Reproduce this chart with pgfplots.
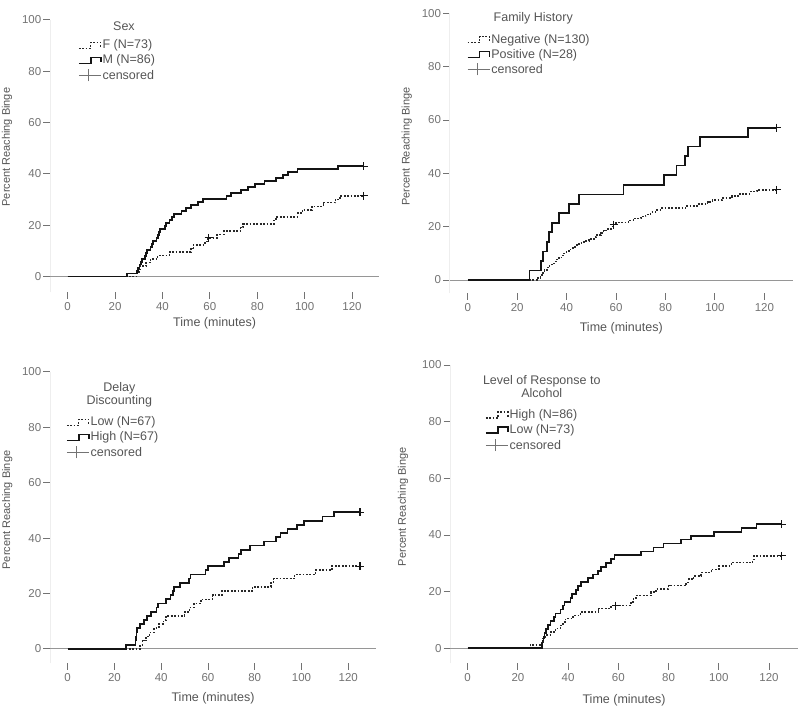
\documentclass[border=0pt]{standalone}
\usepackage{pgfplots}
\pgfplotsset{compat=1.18}
\usepackage{fontspec}
\setmainfont{Liberation Sans}
\definecolor{txt}{RGB}{85,85,85}
\definecolor{tk}{RGB}{115,115,115}
\definecolor{zl}{RGB}{150,150,150}
\definecolor{axc}{RGB}{238,238,238}
\definecolor{sol}{RGB}{20,20,20}
\definecolor{dot}{RGB}{40,40,40}
\pgfplotsset{
  km/.style={
    scale only axis, clip=false,
    /pgf/number format/assume math mode=true,
    axis x line*=bottom, axis y line*=left,
    x axis line style={draw=none},
    y axis line style={draw=axc, line width=0.8pt, -},
    xtick={0,20,...,120}, ytick={0,20,...,100},
    tick align=outside,
    major tick length=6.5pt,
    tick style={draw=tk, line width=0.9pt},
    ticklabel style={font=\fontsize{11.5}{13}\selectfont, text=tk},
    y tick label style={inner sep=2pt},
    xlabel={Time (minutes)},
    ylabel={Percent Reaching Binge},
    every axis x label/.style={font=\fontsize{12.5}{14}\selectfont, text=txt, anchor=center},
    every axis y label/.style={font=\fontsize{11}{13}\selectfont, text=txt, rotate=90, anchor=center},
    legend cell align=left,
    legend style={draw=none, fill=none, inner sep=0pt, outer sep=0pt, row sep=1pt,
       nodes={inner sep=1pt, text height=9pt, text depth=3pt, font=\fontsize{12.5}{14}\selectfont, text=txt},
       anchor=north west},
  },
  stepdot/.style={const plot, dot, line width=1.5pt, dash pattern=on 1.8pt off 1.6pt},
  stepsol/.style={const plot, sol, line width=1.7pt},
  cens/.style={only marks, mark=+, mark size=4pt, sol, line width=1.1pt, forget plot},
  zero/.style={zl, line width=0.9pt, forget plot},
  dotleg/.style={legend image code/.code={\draw[dot, line width=1.4pt, dash pattern=on 1.8pt off 1.6pt] (0pt,-2.5pt) -- (12pt,-2.5pt) -- (12pt,3.5pt) -- (22pt,3.5pt) -- (22pt,-1.5pt);}},
  solleg/.style={legend image code/.code={\draw[sol, line width=1.6pt] (0pt,-2.5pt) -- (12pt,-2.5pt) -- (12pt,3.5pt) -- (22pt,3.5pt) -- (22pt,-1.5pt);}},
  cenleg/.style={legend image code/.code={\draw[tk, line width=0.9pt] (0pt,1.5pt) -- (22pt,1.5pt); \draw[tk, line width=0.9pt] (10pt,-4.5pt) -- (10pt,7.5pt);}},
}
\newcommand{\ttl}{\fontsize{12.5}{12.7}\selectfont\color{txt}}
\begin{document}
\begin{tikzpicture}
\useasboundingbox (0,0) rectangle (800pt,-707pt);

% ---------------- Panel 1: Sex
\begin{axis}[km, at={(49.9pt,-292.3pt)}, anchor=south west,
  width=329.4pt, height=272.4pt, xmin=-7.5, xmax=131.5, ymin=-6.1, ymax=100,
  xlabel style={at={(axis description cs:0.5,0)}, yshift=-31pt},
  ylabel style={at={(axis description cs:-0.1305,0.533)}},
  legend style={at={(axis cs:4.35,92.6)}}]
\addplot[zero] coordinates {(-7.5,0) (131.5,0)};
\addplot[stepdot, dotleg] coordinates {(0,0)(29,1.4)(30,2.7)(30.5,4.1)(33,5.5)(35,6.8)(38,8.2)(43,9.6)(52,11)(53,12.3)(58,13.7)(59,15.1)(63,16.4)(66,17.8)(73,19.2)(74,20.5)(87,21.9)(88,23.3)(97,24.7)(99,26)(103,27.4)(108,28.8)(113,30.1)(115,31.5)(125,31.5)};
\addlegendentry{F (N=73)}
\addplot[stepsol, solleg] coordinates {(0,0)(25,1.2)(29.3,2.3)(29.8,3.5)(30.3,4.7)(30.8,5.8)(31.5,7)(32.5,8.1)(33,9.3)(33.5,10.5)(35,11.6)(35.5,12.8)(36,14)(37.5,15.1)(38,16.3)(38.5,17.4)(39,18.6)(41,19.8)(41.5,20.9)(43,22.1)(44,23.3)(45,24.4)(48,25.6)(50,26.7)(52,27.9)(55,29.1)(57,30.2)(67,31.4)(69,32.6)(73,33.7)(76,34.9)(79,36)(83,37.2)(88,38.4)(91,39.5)(93,40.7)(97,41.9)(114,43.0)(125,43.0)};
\addlegendentry{M (N=86)}
\addplot[cens] coordinates {(125,31.5)(125,43.0)(59.5,15.1)};
\addlegendimage{cenleg}
\addlegendentry{censored}
\node[font=\ttl] at (axis cs:23.75,97.7) {Sex};
\end{axis}

% ---------------- Panel 2: Family History
\begin{axis}[km, at={(449.7pt,-293.3pt)}, anchor=south west,
  width=343.1pt, height=280.0pt, xmin=-7.3, xmax=131.5, ymin=-5.0, ymax=100,
  xlabel style={at={(axis description cs:0.5,0)}, yshift=-35pt},
  ylabel style={at={(axis description cs:-0.1253,0.524)}},
  legend style={at={(axis cs:-0.4,92.6)}}]
\addplot[zero] coordinates {(-7.3,0) (131.5,0)};
\addplot[stepdot, dotleg] coordinates {(0,0)(28.5,0.8)(29.5,1.5)(30,2.3)(30.5,3.1)(31,3.8)(32,4.6)(33,5.4)(34,6.2)(35,6.9)(36,7.7)(37,8.5)(38,9.2)(39,10)(40,10.8)(41.5,11.5)(42.5,12.3)(44,13.1)(45,13.8)(47,14.6)(49,15.4)(51,16.2)(52,16.9)(54,17.7)(55,18.5)(56.5,19.2)(58,20)(59,20.8)(60,21.5)(65,22.3)(67,23.1)(70,23.8)(72,24.6)(74,25.4)(76,26.2)(78,26.9)(88,27.7)(93,28.5)(97,29.2)(99,30)(103,30.8)(107,31.5)(110,32.3)(114,33.1)(117,33.8)(125,33.8)};
\addlegendentry{Negative (N=130)}
\addplot[stepsol, solleg] coordinates {(0,0)(25,3.6)(29.5,7.1)(30.5,10.7)(32,14.3)(33,17.9)(34,21.4)(37,25)(41,28.6)(45,32.1)(63,35.7)(79.5,39.3)(84.5,42.9)(88,46.4)(89,50)(94,53.6)(113.5,57.1)(125,57.1)};
\addlegendentry{Positive (N=28)}
\addplot[cens] coordinates {(125,33.8)(125,57.1)(59,20.8)};
\addlegendimage{cenleg}
\addlegendentry{censored}
\node[font=\ttl] at (axis cs:26.5,98.1) {Family History};
\end{axis}

% ---------------- Panel 3: Delay Discounting
\begin{axis}[km, at={(49.9pt,-663.3pt)}, anchor=south west,
  width=326.2pt, height=291.4pt, xmin=-7.6, xmax=131.9, ymin=-5.2, ymax=100,
  xlabel style={at={(axis description cs:0.5,0)}, yshift=-35pt},
  ylabel style={at={(axis description cs:-0.1306,0.526)}},
  legend style={at={(axis cs:-0.73,84.1)}}]
\addplot[zero] coordinates {(-7.6,0) (131.9,0)};
\addplot[stepdot, dotleg] coordinates {(0,0)(31,1.5)(32,3)(33.5,4.5)(35,6)(37,7.5)(39,9)(41,10.4)(42,11.9)(50,13.4)(52,14.9)(54,16.4)(57,17.9)(62,19.4)(66,20.9)(79,22.4)(87,23.9)(88,25.4)(97,26.9)(106,28.4)(113,29.9)(125,29.9)};
\addlegendentry{Low (N=67)}
\addplot[stepsol, solleg] coordinates {(0,0)(25,1.5)(29,3)(29.2,4.5)(29.4,6)(29.6,7.5)(31,9)(32.5,10.4)(34,11.9)(35.5,13.4)(38,14.9)(38.5,16.4)(42,17.9)(44,19.4)(45,20.9)(45.5,22.4)(48,23.9)(52,25.4)(52.5,26.9)(59,28.4)(60,29.9)(67,31.3)(69,32.8)(73,34.3)(74,35.8)(78,37.3)(84,38.8)(89,40.3)(91,41.8)(94,43.3)(98,44.8)(101,46.3)(109,47.8)(114,49.3)(125,49.3)};
\addlegendentry{High (N=67)}
\addplot[cens] coordinates {(125,29.9)(125,49.3)};
\addlegendimage{cenleg}
\addlegendentry{censored}
\node[font=\ttl, align=center] at (axis cs:22.1,91.8) {Delay\\Discounting};
\end{axis}

% ---------------- Panel 4: Level of Response to Alcohol
\begin{axis}[km, at={(450.1pt,-663.3pt)}, anchor=south west,
  width=347.8pt, height=298.3pt, xmin=-7, xmax=131.5, ymin=-5.3, ymax=100,
  xlabel style={at={(axis description cs:0.5,0)}, yshift=-36.7pt},
  ylabel style={at={(axis description cs:-0.135,0.525)}},
  legend style={at={(axis cs:6.9,84.6)}}]
\addplot[zero] coordinates {(-7,0) (131.5,0)};
\addplot[stepdot, dotleg] coordinates {(0,0)(25,1.2)(29.5,2.3)(30,3.5)(31,4.7)(33,5.8)(35,7)(37,8.1)(38,9.3)(39,10.5)(42,11.6)(45,12.8)(52,14)(57,15.1)(65,16.3)(66,17.4)(67,18.6)(73,19.8)(75,20.9)(80,22.1)(87,23.3)(88,24.4)(90,25.6)(93,26.7)(97,27.9)(100,29.1)(105,30.2)(113.5,31.4)(114,32.6)(125,32.6)};
\addlegendentry{High (N=86)}
\addplot[stepsol, solleg] coordinates {(0,0)(29.5,1.4)(29.8,2.7)(30.2,4.1)(30.6,5.5)(31.2,6.8)(32,8.2)(33,9.6)(34.5,11)(35,12.3)(37,13.7)(38,15.1)(38.5,16.4)(41,17.8)(41.5,19.2)(43,20.5)(44,21.9)(45,23.3)(48,24.7)(50,26)(52,27.4)(53,28.8)(55,30.1)(57,31.5)(58.5,32.9)(69,34.2)(74,35.6)(78,37)(85,38.4)(89,39.7)(98,41.1)(109,42.5)(115,43.8)(125,43.8)};
\addlegendentry{Low (N=73)}
\addplot[cens] coordinates {(125,32.6)(125,43.8)(59,15.1)};
\addlegendimage{cenleg}
\addlegendentry{censored}
\node[font=\ttl, align=center] at (axis cs:29.5,92.5) {Level of Response to\\Alcohol};
\end{axis}
\end{tikzpicture}
\end{document}
